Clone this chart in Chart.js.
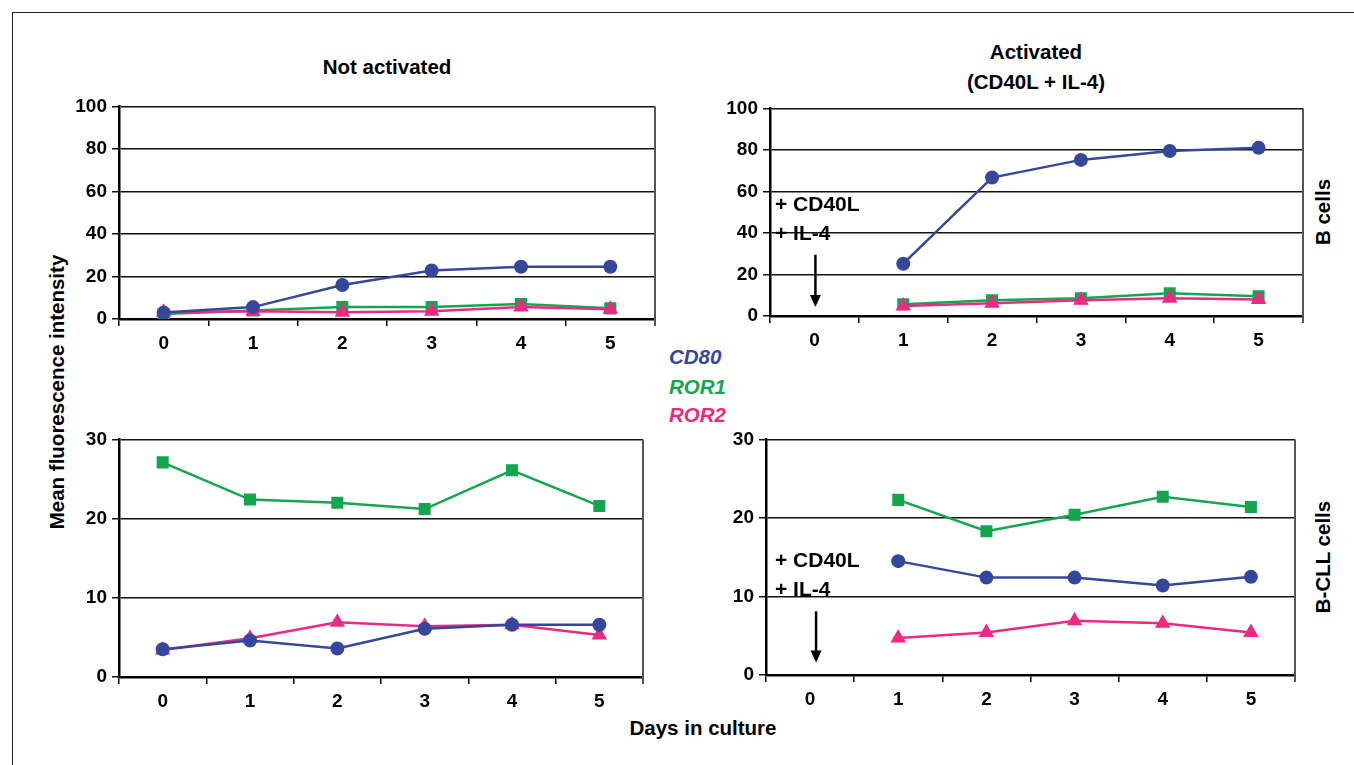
<!DOCTYPE html>
<html lang="en">
<head>
  <meta charset="UTF-8" />
  <title>CD80, ROR1 and ROR2 - mean fluorescence intensity</title>
  <style>
    body { margin: 0; background: #fff; width: 1354px; height: 765px; overflow: hidden; position: relative;
           font-family: "Liberation Sans", Arial, sans-serif; font-weight: bold; color: #000; }
    .frame { position: absolute; left: 12px; top: 12px; width: 1360px; height: 780px;
             border-left: 1.5px solid #222; border-top: 1.5px solid #222; }
    canvas { position: absolute; }
    .txt { position: absolute; white-space: nowrap; font-size: 20.5px; line-height: 1; }
    .rot { transform: translate(-50%, -50%) rotate(-90deg); }
    .ctr { transform: translate(-50%, -50%); }
    .note { position: absolute; font-size: 21px; line-height: 1; white-space: nowrap; transform: translateY(-50%); }
    .leg { position: absolute; font-size: 20.5px; font-style: italic; line-height: 1; transform: translateY(-50%); }
  </style>
</head>
<body>
  <div class="frame"></div>

  <div class="txt ctr" style="left:387px; top:67px;">Not activated</div>
  <div class="txt ctr" style="left:1036px; top:52px;">Activated</div>
  <div class="txt ctr" style="left:1036px; top:82px;">(CD40L + IL-4)</div>
  <div class="txt rot" style="left:57px; top:392px;">Mean fluorescence intensity</div>
  <div class="txt ctr" style="left:703px; top:728px;">Days in culture</div>
  <div class="txt rot" style="left:1323px; top:212px;">B cells</div>
  <div class="txt rot" style="left:1323px; top:557px;">B-CLL cells</div>

  <div class="leg" style="left:669px; top:357px; color:#35479b;">CD80</div>
  <div class="leg" style="left:669px; top:387px; color:#12a64f;">ROR1</div>
  <div class="leg" style="left:669px; top:415px; color:#ea2a84;">ROR2</div>

  <canvas id="tl" style="left:60px; top:90px;" width="610" height="265"></canvas>
  <canvas id="tr" style="left:705px; top:92px;" width="615" height="260"></canvas>
  <canvas id="bl" style="left:60px; top:423px;" width="600" height="290"></canvas>
  <canvas id="br" style="left:705px; top:423px;" width="610" height="288"></canvas>

  <div class="note" style="left:775px; top:203px;">+ CD40L</div>
  <div class="note" style="left:775px; top:232px;">+ IL-4</div>
  <div class="note" style="left:775px; top:559px;">+ CD40L</div>
  <div class="note" style="left:775px; top:588px;">+ IL-4</div>

  <script src="https://cdn.jsdelivr.net/npm/chart.js"></script>
  <script>
    // dias em cultura
    const days = ['0', '1', '2', '3', '4', '5'];

    // B cells, not activated
    const bNotCD80 = [3, 5.6, 16, 22.8, 24.6, 24.6];
    const bNotROR1 = [2.3, 4, 5.6, 5.6, 7, 5];
    const bNotROR2 = [3.2, 3.7, 3.2, 3.7, 5.6, 4.6];

    // B cells, activated (CD40L + IL-4)
    const bActCD80 = [null, 25.2, 66.7, 75.2, 79.5, 81];
    const bActROR1 = [null, 5.7, 7.6, 8.6, 11, 9.5];
    const bActROR2 = [null, 4.8, 6.2, 7.6, 8.6, 8];

    // B-CLL cells, not activated
    const cllNotCD80 = [3.5, 4.6, 3.6, 6.1, 6.6, 6.6];
    const cllNotROR1 = [27.1, 22.4, 22, 21.2, 26.1, 21.6];
    const cllNotROR2 = [3.4, 4.9, 6.9, 6.4, 6.6, 5.3];

    // B-CLL cells, activated
    const cllActCD80 = [null, 14.5, 12.4, 12.4, 11.4, 12.5];
    const cllActROR1 = [null, 22.3, 18.3, 20.4, 22.7, 21.4];
    const cllActROR2 = [null, 4.7, 5.4, 6.9, 6.6, 5.4];

    const BLUE = '#35479b', GREEN = '#12a64f', PINK = '#ea2a84';
    const FONT = { family: '"Liberation Sans", Arial, sans-serif', size: 19, weight: 'bold' };

    // moldura cinza (direita) + seta opcional do dia 0
    const framePlugin = {
      id: 'frame',
      afterDraw(chart, args, opts) {
        const { ctx, chartArea: a, scales } = chart;
        ctx.save();
        ctx.strokeStyle = '#555';
        ctx.lineWidth = 2;
        ctx.beginPath();
        ctx.moveTo(a.right, a.top);
        ctx.lineTo(a.right, a.bottom + 7);
        ctx.stroke();
        if (opts.arrow) {
          const x = scales.x.getPixelForValue(0) + opts.arrow[2];
          const y1 = scales.y.getPixelForValue(opts.arrow[0]);
          const y2 = scales.y.getPixelForValue(opts.arrow[1]);
          ctx.strokeStyle = '#000';
          ctx.fillStyle = '#000';
          ctx.lineWidth = 2.5;
          ctx.beginPath();
          ctx.moveTo(x, y1);
          ctx.lineTo(x, y2 - 10);
          ctx.stroke();
          ctx.beginPath();
          ctx.moveTo(x - 5.5, y2 - 12);
          ctx.lineTo(x + 5.5, y2 - 12);
          ctx.lineTo(x, y2);
          ctx.closePath();
          ctx.fill();
        }
        ctx.restore();
      }
    };

    function makePanel(id, cd80, ror1, ror2, yMax, yStep, yWidth, padRight, arrow) {
      const ds = (label, data, color, style, radius, order) => ({
        label, data, order,
        borderColor: color, backgroundColor: color,
        borderWidth: 2.5, pointStyle: style, pointRadius: radius,
        pointBorderWidth: 0, tension: 0, spanGaps: false
      });
      return new Chart(document.getElementById(id), {
        type: 'line',
        data: {
          labels: days,
          datasets: [
            ds('CD80', cd80, BLUE, 'circle', 7, 1),
            ds('ROR1', ror1, GREEN, 'rect', 8.5, 3),
            ds('ROR2', ror2, PINK, 'triangle', 9, 2)
          ]
        },
        options: {
          responsive: false,
          animation: false,
          layout: { padding: { top: 14, right: padRight, bottom: 0, left: 0 } },
          plugins: { legend: { display: false }, tooltip: { enabled: false }, frame: { arrow } },
          scales: {
            x: {
              offset: true,
              grid: { offset: true, drawOnChartArea: false, drawTicks: true, tickLength: 7, color: '#000', lineWidth: 1.5 },
              border: { color: '#000', width: 2.5 },
              ticks: { color: '#000', font: FONT, padding: 6, maxRotation: 0 },
              afterFit: s => { s.height = 36; }
            },
            y: {
              min: 0, max: yMax,
              grid: { color: '#111', lineWidth: 1.5, tickLength: 7 },
              border: { color: '#000', width: 2.5 },
              ticks: { stepSize: yStep, color: '#000', font: FONT, padding: 5 },
              afterFit: s => { s.width = yWidth; }
            }
          }
        },
        plugins: [framePlugin]
      });
    }

    makePanel('tl', bNotCD80, bNotROR1, bNotROR2, 100, 20, 59, 15, null);
    makePanel('tr', bActCD80, bActROR1, bActROR2, 100, 20, 65, 17, [29.5, 4.3, 1]);
    makePanel('bl', cllNotCD80, cllNotROR1, cllNotROR2, 30, 10, 59, 17, null);
    makePanel('br', cllActCD80, cllActROR1, cllActROR2, 30, 10, 61, 20, [8.1, 1.6, 6]);
  </script>
</body>
</html>
